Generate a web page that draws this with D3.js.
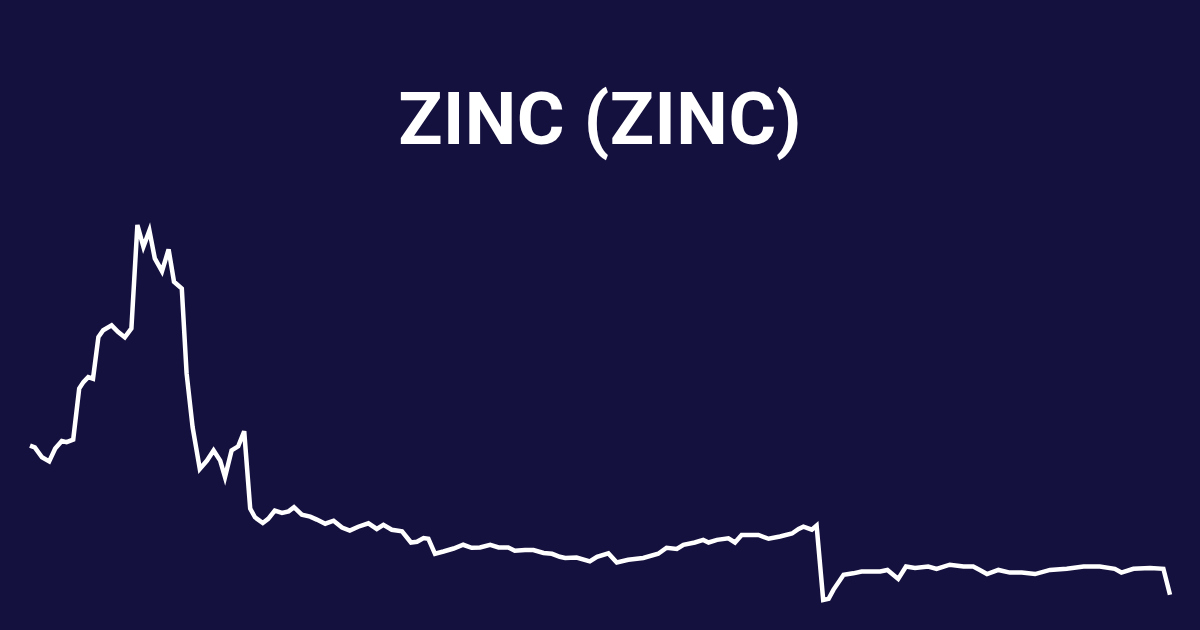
<!DOCTYPE html>
<html>
<head>
<meta charset="utf-8">
<script src="https://cdn.jsdelivr.net/npm/d3@7"></script>
<style>
  html, body { margin: 0; padding: 0; background: #15113e; }
  svg { display: block; }
</style>
</head>
<body>
<svg id="chart"></svg>
<script>
const title = "ZINC (ZINC)";

// days since start of the period
const days = [
  0.0, 0.8, 2.0, 3.2, 4.2, 5.3, 6.1, 7.2, 8.2, 8.9,
  9.7, 10.5, 11.4, 12.2, 13.6, 14.7, 15.8, 16.9, 17.9, 18.9,
  19.9, 20.8, 22.0, 23.1, 24.0, 25.3, 26.1, 27.1, 28.3, 29.5,
  30.6, 31.7, 32.5, 33.6, 34.7, 35.7, 36.7, 37.5, 38.8, 39.7,
  40.8, 42.0, 43.1, 44.0, 45.3, 46.7, 47.8, 49.2, 50.6, 52.0,
  53.3, 54.7, 56.4, 57.8, 58.9, 60.3, 62.0, 63.5, 64.5, 65.6,
  66.4, 67.5, 68.9, 70.6, 72.2, 73.6, 75.0, 76.7, 78.1, 79.7,
  80.8, 82.5, 83.9, 85.6, 87.0, 88.3, 89.2, 91.1, 93.3, 94.5,
  96.4, 97.8, 99.7, 102.2, 104.7, 106.1, 107.8, 108.9, 110.8, 112.2,
  113.1, 114.5, 116.4, 117.5, 118.6, 121.4, 123.1, 125.0, 127.0, 128.1,
  128.9, 130.3, 131.1, 132.2, 133.1, 133.9, 135.6, 137.2, 138.6, 140.3,
  141.7, 142.9, 144.7, 146.0, 147.5, 149.7, 151.1, 153.3, 155.6, 157.2,
  158.3, 159.5, 161.4, 163.3, 165.3, 167.5, 170.0, 172.8, 175.6, 178.3,
  180.8, 181.9, 183.9, 186.7, 188.9, 190.0
];

// price, relative units (0 = period low, 100 = period high)
const prices = [
  41.3, 40.8, 38.2, 37.1, 40.5, 42.5, 42.2, 42.9, 56.5, 58.2,
  59.5, 59.1, 70.2, 72.0, 73.3, 71.5, 70.1, 72.5, 100.0, 94.2,
  98.5, 91.1, 87.7, 93.5, 84.9, 83.1, 60.5, 46.2, 35.1, 37.3,
  40.0, 37.3, 32.9, 40.0, 41.1, 45.1, 24.5, 22.2, 20.7, 21.8,
  24.0, 23.4, 23.8, 24.9, 22.9, 22.4, 21.6, 20.5, 21.3, 19.5,
  18.7, 19.7, 20.6, 19.1, 20.2, 18.9, 18.5, 15.5, 15.7, 16.7,
  16.5, 12.5, 13.1, 13.9, 14.9, 14.1, 14.2, 14.9, 14.2, 14.2,
  13.3, 13.5, 13.5, 12.7, 12.5, 11.7, 11.4, 11.5, 10.5, 11.7,
  12.6, 10.2, 10.9, 11.4, 12.5, 14.1, 13.8, 14.9, 15.5, 16.2,
  15.5, 16.2, 16.6, 15.5, 17.5, 17.5, 16.5, 17.1, 17.9, 19.1,
  19.7, 18.9, 20.0, 0.2, 0.5, 2.9, 6.9, 7.3, 7.8, 7.8,
  7.8, 8.2, 5.8, 9.1, 8.7, 9.1, 8.5, 9.6, 9.1, 9.1,
  8.2, 7.1, 8.2, 7.5, 7.5, 7.1, 8.2, 8.5, 9.1, 9.1,
  8.5, 7.5, 8.5, 8.7, 8.5, 1.6
];

const width = 1200;
const height = 630;
const margin = { top: 225, right: 30, bottom: 30, left: 30 };

const data = days.map((d, i) => ({ day: d, price: prices[i] }));

const x = d3.scaleLinear()
  .domain(d3.extent(days))
  .range([margin.left, width - margin.right]);
const y = d3.scaleLinear()
  .domain(d3.extent(prices))
  .range([height - margin.bottom, margin.top]);

const svg = d3.select("#chart")
  .attr("width", width)
  .attr("height", height);

svg.append("rect")
  .attr("width", width)
  .attr("height", height)
  .attr("fill", "#15113e");

svg.append("text")
  .attr("x", width / 2)
  .attr("y", 144)
  .attr("text-anchor", "middle")
  .attr("fill", "#ffffff")
  .style("font-family", "Roboto, sans-serif")
  .style("font-weight", "700")
  .style("font-size", "73px")
  .style("letter-spacing", "0.5px")
  .text(title);

const line = d3.line()
  .x((d) => x(d.day))
  .y((d) => y(d.price));

svg.append("path")
  .datum(data)
  .attr("fill", "none")
  .attr("stroke", "#ffffff")
  .attr("stroke-width", 4.5)
  .attr("d", line);
</script>
</body>
</html>
